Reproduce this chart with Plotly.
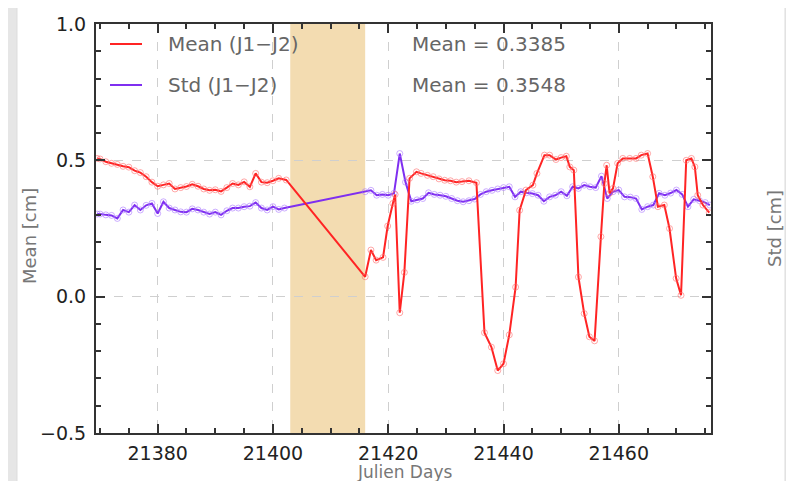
import plotly.graph_objects as go

# ---------------- data ----------------
mean_name = "Mean (J1\u2212J2)"
std_name = "Std (J1\u2212J2)"
mean_stat = "Mean = 0.3385"
std_stat = "Mean = 0.3548"

gap_start = 21403
gap_end = 21416

mean_days = [21369.5, 21370, 21371, 21372, 21373, 21374, 21375, 21376, 21377, 21378, 21379,
             21380, 21381, 21382, 21383, 21384, 21385, 21386, 21387, 21388, 21389,
             21390, 21391, 21392, 21393, 21394, 21395, 21396, 21397, 21398, 21399,
             21400, 21401, 21402.3,
             21416.0, 21417.0, 21417.9, 21419.1, 21419.9, 21420.8, 21421.2, 21422.0, 21422.8,
             21423.7, 21424.9, 21425.7, 21426.8, 21427.8, 21428.8, 21429.8, 21430.8, 21431.8,
             21432.8, 21434.0, 21435.3, 21436.7, 21437.9, 21439.0, 21440.0, 21441.0, 21442.1,
             21442.8, 21443.9, 21445.1, 21445.8, 21447.1, 21448.0, 21449.1, 21450.0, 21450.9,
             21451.5, 21452.2, 21453.0, 21454.0, 21454.9, 21455.8, 21456.9, 21457.5, 21457.9,
             21458.4, 21459.0, 21459.8, 21460.7, 21461.9, 21463.0, 21463.9, 21465.0, 21465.9,
             21466.8, 21467.9, 21468.8, 21469.95, 21470.8, 21471.7, 21472.6, 21473.2, 21473.7,
             21474.6, 21475.7]
mean_vals = [0.507, 0.505, 0.495, 0.489, 0.485, 0.478, 0.475, 0.462, 0.455, 0.440, 0.420,
             0.405, 0.410, 0.415, 0.395, 0.400, 0.404, 0.412, 0.405, 0.395, 0.390,
             0.392, 0.386, 0.400, 0.415, 0.410, 0.421, 0.403, 0.452, 0.420, 0.418,
             0.425, 0.434, 0.428,
             0.073, 0.171, 0.134, 0.144, 0.259, 0.342, 0.375, -0.059, 0.089,
             0.434, 0.458, 0.452, 0.445, 0.440, 0.432, 0.427, 0.425, 0.420,
             0.422, 0.425, 0.418, -0.132, -0.185, -0.271, -0.246, -0.140, 0.035,
             0.317, 0.391, 0.409, 0.452, 0.519, 0.519, 0.503, 0.510, 0.515,
             0.476, 0.464, 0.072, -0.062, -0.147, -0.162, 0.220, 0.415, 0.482,
             0.379, 0.397, 0.489, 0.507, 0.507, 0.507, 0.519, 0.525, 0.440,
             0.330, 0.336, 0.250, 0.067, 0.005, 0.500, 0.507, 0.476, 0.372,
             0.336, 0.308]

std_days = [21369.5, 21370, 21371, 21372, 21373, 21374, 21375, 21376, 21377, 21378, 21379,
            21380, 21381, 21382, 21383, 21384, 21385, 21386, 21387, 21388, 21389,
            21390, 21391, 21392, 21393, 21394, 21395, 21396, 21397, 21398, 21399,
            21400, 21401, 21402,
            21416, 21417, 21418, 21419, 21420, 21421, 21422, 21423, 21424, 21425,
            21426, 21427, 21428, 21429, 21430, 21431, 21432, 21433, 21434, 21435,
            21436, 21437, 21438, 21439, 21440, 21441, 21442, 21443, 21444, 21445,
            21446, 21447, 21448, 21449, 21450, 21451, 21452, 21453, 21454, 21455,
            21456, 21457, 21458, 21459, 21460, 21461, 21462, 21463, 21464, 21465,
            21466, 21467, 21468, 21469, 21470, 21471, 21472, 21473, 21474, 21475, 21475.8]
std_vals = [0.303, 0.303, 0.300, 0.298, 0.287, 0.318, 0.310, 0.336, 0.318, 0.335, 0.342,
            0.305, 0.348, 0.325, 0.318, 0.311, 0.310, 0.322, 0.318, 0.310, 0.303,
            0.310, 0.300, 0.315, 0.325, 0.325, 0.330, 0.332, 0.345, 0.325, 0.318,
            0.330, 0.320, 0.325,
            0.385, 0.390, 0.372, 0.375, 0.372, 0.379, 0.525, 0.420, 0.350, 0.355,
            0.360, 0.381, 0.375, 0.372, 0.368, 0.360, 0.352, 0.348, 0.352, 0.358,
            0.375, 0.385, 0.390, 0.395, 0.400, 0.403, 0.366, 0.385, 0.381, 0.378,
            0.372, 0.350, 0.366, 0.372, 0.385, 0.370, 0.403, 0.397, 0.409, 0.403,
            0.400, 0.442, 0.360, 0.385, 0.391, 0.366, 0.365, 0.360, 0.320, 0.330,
            0.336, 0.379, 0.372, 0.380, 0.391, 0.375, 0.330, 0.357, 0.352, 0.345, 0.336]

x_tickvals = [21380, 21400, 21420, 21440, 21460]
y_tickvals = [-0.5, 0.0, 0.5, 1.0]
y_ticktext = ["\u22120.5", "0.0", "0.5", "1.0"]

# ---------------- figure ----------------
RED = "#ff2424"
PURPLE = "#7f2ff0"
FONT = "DejaVu Sans"

# the page body has an 8px margin, so the figure is drawn 8px smaller and offset
OFF = 8
W, H = 794 - OFF, 481 - OFF
L, R, T, B = 96 - OFF, 83, 24 - OFF, 48
pw, ph = W - L - R, H - T - B


def px(x):
    return (x - OFF - L) / pw


def py(y):
    return (H - B - (y - OFF)) / ph


fig = go.Figure()

fig.add_trace(go.Scatter(
    x=std_days, y=std_vals, mode="lines+markers", name=std_name, showlegend=False,
    line=dict(color=PURPLE, width=2),
    marker=dict(symbol="circle-open", size=6, color="rgba(170,120,255,0.6)", line=dict(width=1)),
))
fig.add_trace(go.Scatter(
    x=mean_days, y=mean_vals, mode="lines+markers", name=mean_name, showlegend=False,
    line=dict(color=RED, width=2),
    marker=dict(symbol="circle-open", size=6, color="rgba(255,110,110,0.6)", line=dict(width=1)),
))

shapes = [
    # white panel over the grey page
    dict(type="rect", xref="paper", yref="paper", x0=px(17), x1=px(785), y0=py(490), y1=py(7),
         fillcolor="white", line=dict(color="#dddddd", width=1), layer="below"),
    # shaded gap band
    dict(type="rect", xref="x", yref="paper", x0=gap_start, x1=gap_end, y0=0, y1=1,
         fillcolor="#f3dcb1", line=dict(width=0), layer="between"),
    # legend samples
    dict(type="line", xref="paper", yref="paper", x0=px(110), x1=px(142), y0=py(44), y1=py(44),
         line=dict(color=RED, width=2)),
    dict(type="line", xref="paper", yref="paper", x0=px(110), x1=px(142), y0=py(85), y1=py(85),
         line=dict(color=PURPLE, width=2)),
]

txt = dict(family=FONT, size=20, color="#666666")
annotations = [
    dict(text=mean_name, x=px(166), y=py(44), xref="paper", yref="paper", xanchor="left",
         yanchor="middle", showarrow=False, font=txt),
    dict(text=std_name, x=px(166), y=py(85), xref="paper", yref="paper", xanchor="left",
         yanchor="middle", showarrow=False, font=txt),
    dict(text=mean_stat, x=px(410), y=py(44), xref="paper", yref="paper", xanchor="left",
         yanchor="middle", showarrow=False, font=txt),
    dict(text=std_stat, x=px(410), y=py(85), xref="paper", yref="paper", xanchor="left",
         yanchor="middle", showarrow=False, font=txt),
    dict(text="Julien Days", x=px(404), y=py(471.5), xref="paper", yref="paper", xanchor="center",
         yanchor="middle", showarrow=False, font=dict(family=FONT, size=17, color="#777777")),
    dict(text="Mean [cm]", x=px(30), y=py(236), xref="paper", yref="paper", xanchor="center",
         yanchor="middle", showarrow=False, textangle=-90,
         font=dict(family=FONT, size=18, color="#777777")),
    dict(text="Std [cm]", x=px(775), y=py(229), xref="paper", yref="paper", xanchor="center",
         yanchor="middle", showarrow=False, textangle=-90,
         font=dict(family=FONT, size=18, color="#777777")),
]

axis_common = dict(
    showline=True, linecolor="#333333", linewidth=2, mirror="ticks",
    ticks="inside", ticklen=9, tickwidth=1.5, tickcolor="#333333",
    showgrid=True, gridcolor="#cfcfcf", griddash="dash", gridwidth=1,
    zeroline=False, automargin=False,
    tickfont=dict(family=FONT, size=19, color="#222222"),
)

fig.update_layout(
    width=W, height=H,
    margin=dict(l=L, r=R, t=T, b=B, autoexpand=False),
    paper_bgcolor="#e6e6e6",
    plot_bgcolor="white",
    showlegend=False,
    shapes=shapes,
    annotations=annotations,
    xaxis=dict(range=[21369.3, 21476], tickvals=x_tickvals, ticktext=[str(v) for v in x_tickvals],
               minor=dict(dtick=5, tick0=21380, ticks="inside", ticklen=5, tickcolor="#333333",
                          showgrid=False),
               ticklabelstandoff=2,
               **axis_common),
    yaxis=dict(range=[-0.5, 1.0], tickvals=y_tickvals, ticktext=y_ticktext,
               minor=dict(dtick=0.1, tick0=0, ticks="inside", ticklen=5, tickcolor="#333333",
                          showgrid=False),
               ticklabelstandoff=4,
               **axis_common),
)

fig.write_html("out.html")
